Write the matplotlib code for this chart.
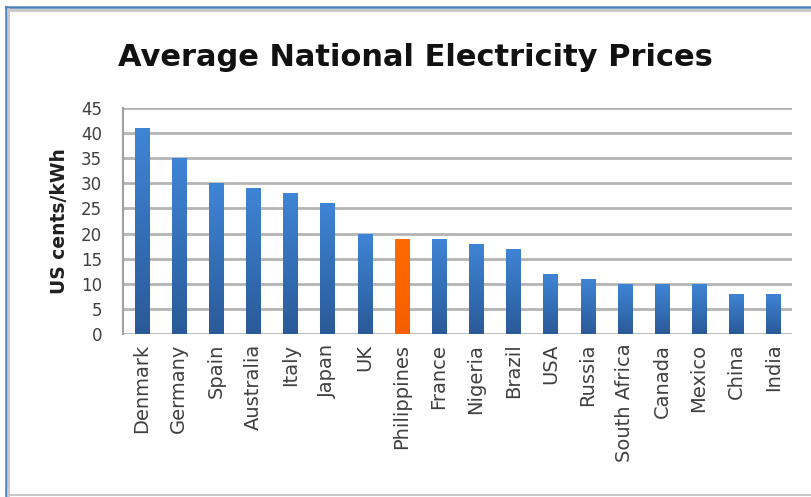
import numpy as np
import matplotlib
matplotlib.use("Agg")
import matplotlib.pyplot as plt
from matplotlib.patches import Rectangle
from matplotlib.colors import LinearSegmentedColormap

countries = ["Denmark", "Germany", "Spain", "Australia", "Italy", "Japan", "UK",
             "Philippines", "France", "Nigeria", "Brazil", "USA", "Russia",
             "South Africa", "Canada", "Mexico", "China", "India"]
prices = [41, 35, 30, 29, 28, 26, 20, 19, 19, 18, 17, 12, 11, 10, 10, 10, 8, 8]
highlight = "Philippines"
y_ticks = [0, 5, 10, 15, 20, 25, 30, 35, 40, 45]

fig = plt.figure(figsize=(8.12, 4.97), dpi=100)
fig.patch.set_facecolor("white")

# outer frame with a soft inner shadow
W, H = 812, 497
def fx(px):
    return px / W
def fy(py):
    return 1 - py / H
fig.add_artist(plt.Line2D([fx(6), fx(6)], [fy(7), fy(497)], color="#4f81bd", lw=1.8, transform=fig.transFigure))
fig.add_artist(plt.Line2D([fx(6), fx(812)], [fy(7), fy(7)], color="#4f81bd", lw=1.8, transform=fig.transFigure))
fig.add_artist(plt.Line2D([fx(8.5), fx(8.5)], [fy(9), fy(497)], color="#c8c8c8", lw=2.0, transform=fig.transFigure))
fig.add_artist(plt.Line2D([fx(8), fx(812)], [fy(10), fy(10)], color="#c8c8c8", lw=2.0, transform=fig.transFigure))
fig.add_artist(plt.Line2D([fx(8), fx(812)], [fy(494.5), fy(494.5)], color="#c8c8c8", lw=1.5, transform=fig.transFigure))

ax = fig.add_axes([123 / W, 1 - 334 / H, (792 - 123) / W, (334 - 108) / H])

for yv in y_ticks:
    ax.axhline(yv, color="#b4b4b4", lw=2.0, zorder=1)

blue_cmap = LinearSegmentedColormap.from_list("barblue", ["#2a5a98", "#3f85d6"])
orange_cmap = LinearSegmentedColormap.from_list("barorange", ["#f55f00", "#ff6a00"])
grad = np.linspace(0, 1, 256).reshape(-1, 1)
bar_w = 0.38
for i, (c, v) in enumerate(zip(countries, prices)):
    rect = Rectangle((i - bar_w / 2, 0), bar_w, v, facecolor="none", edgecolor="none", zorder=3)
    ax.add_patch(rect)
    cmap = orange_cmap if c == highlight else blue_cmap
    im = ax.imshow(grad, extent=(i - bar_w / 2, i + bar_w / 2, 0, v), origin="lower",
                   cmap=cmap, aspect="auto", zorder=3, interpolation="bilinear")
    im.set_clip_path(rect)
ax.set_xlim(-0.5, len(countries) - 0.5)
ax.set_ylim(0, 45)

for s in ["top", "right", "bottom"]:
    ax.spines[s].set_visible(False)
ax.spines["left"].set_color("#a0a0a0")
ax.spines["left"].set_linewidth(1.5)

ax.set_yticks(y_ticks)
ax.set_yticklabels([str(t) for t in y_ticks], fontsize=12, color="#404040")
ax.set_xticks(range(len(countries)))
ax.set_xticklabels(countries, rotation=90, fontsize=14, color="#404040", va="top")
ax.tick_params(axis="both", length=0)
ax.tick_params(axis="y", pad=15)
ax.tick_params(axis="x", pad=7)

ax.set_ylabel("US cents/kWh", fontsize=13.5, fontweight="bold", color="#202020", labelpad=9)

fig.text(415 / W, 1 - 57 / H, "Average National Electricity Prices", ha="center", va="center",
         fontsize=22, fontweight="bold", color="#111111")

fig.savefig("out.png", dpi=100, facecolor="white")
